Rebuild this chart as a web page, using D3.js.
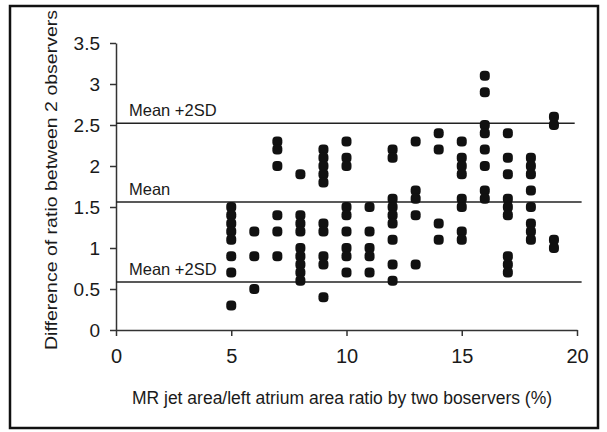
<!DOCTYPE html>
<html>
<head>
<meta charset="utf-8">
<script src="https://cdn.jsdelivr.net/npm/d3@7"></script>
<style>
  body { margin: 0; background: #fff; }
  svg text { font-family: "Liberation Sans", Arial, sans-serif; fill: #1a1a1a; }
</style>
</head>
<body>
<svg id="chart" width="607" height="432"></svg>
<script>
// x positions of each column of points (%)
const colX = [5, 6, 7, 8, 9, 10, 11, 12, 13, 14, 15, 16, 17, 18, 19];
// difference values read for each column
const colY = [
  [1.5, 1.4, 1.3, 1.2, 1.1, 0.9, 0.7, 0.3],
  [1.2, 0.9, 0.5],
  [2.3, 2.2, 2.0, 1.4, 1.2, 0.9],
  [1.9, 1.4, 1.3, 1.2, 1.0, 0.9, 0.8, 0.7, 0.6],
  [2.2, 2.1, 2.0, 1.9, 1.8, 1.3, 1.2, 0.9, 0.8, 0.4],
  [2.3, 2.1, 2.0, 1.5, 1.4, 1.2, 1.0, 0.9, 0.7],
  [1.5, 1.2, 1.0, 0.9, 0.7],
  [2.2, 2.1, 1.6, 1.5, 1.4, 1.3, 1.1, 0.8, 0.6],
  [2.3, 1.7, 1.6, 1.4, 0.8],
  [2.4, 2.2, 1.3, 1.1],
  [2.3, 2.1, 2.0, 1.9, 1.6, 1.5, 1.2, 1.1],
  [3.1, 2.9, 2.5, 2.4, 2.2, 2.0, 1.7, 1.6],
  [2.4, 2.1, 1.9, 1.6, 1.5, 1.4, 0.9, 0.8, 0.7],
  [2.1, 2.0, 1.9, 1.7, 1.5, 1.3, 1.2, 1.1],
  [2.6, 2.5, 1.1, 1.0]
];
// reference lines
const refNames = ["Mean +2SD", "Mean", "Mean +2SD"];
const refValues = [2.52, 1.56, 0.585];
const refEnds = [19.9, 20.2, 20.2];
// ticks
const xTicks = [0, 5, 10, 15, 20];
const yTicks = [0, 0.5, 1, 1.5, 2, 2.5, 3, 3.5];
const xTitle = "MR jet area/left atrium area ratio by two boservers (%)";
const yTitle = "Difference of ratio between 2 observers";

const
  svg = d3.select('#chart'),
  xScale = d3.scaleLinear().domain([0, 20]).range([116, 577]),
  yScale = d3.scaleLinear().domain([0, 3.5]).range([330, 43]),
  points = colX.flatMap((x, i) => colY[i].map(y => ({x: x, y: y})))
  ;

// outer frame
svg.append('rect')
  .attr('x', 10).attr('y', 6)
  .attr('width', 588).attr('height', 422)
  .attr('fill', 'none')
  .attr('stroke', '#111')
  .attr('stroke-width', 2.5);

// axes
const axisY = d3.axisLeft(yScale)
  .tickValues(yTicks)
  .tickFormat(d3.format('~g'))
  .tickSize(6)
  .tickSizeOuter(0)
  .tickPadding(10);
const axisX = d3.axisBottom(xScale)
  .tickValues(xTicks)
  .tickFormat(d3.format('~g'))
  .tickSize(6)
  .tickSizeOuter(0)
  .tickPadding(13);

const gy = svg.append('g')
  .attr('transform', `translate(${xScale(0)},0)`)
  .call(axisY);
gy.selectAll('text').style('font-size', '19px');

const gx = svg.append('g')
  .attr('transform', `translate(0,${yScale(0)})`)
  .call(axisX);
gx.selectAll('text').style('font-size', '20px');

svg.selectAll('.domain, .tick line')
  .attr('stroke', '#333')
  .attr('stroke-width', 1.5);

// reference lines
refValues.forEach((v, i) => {
  svg.append('line')
    .attr('x1', xScale(0)).attr('x2', xScale(refEnds[i]))
    .attr('y1', yScale(v)).attr('y2', yScale(v))
    .attr('stroke', '#222')
    .attr('stroke-width', 1.5);
  svg.append('text')
    .attr('x', xScale(0) + 13)
    .attr('y', yScale(v) - 7)
    .style('font-size', '16.5px')
    .text(refNames[i]);
});

// points
svg.append('g')
  .selectAll('rect')
  .data(points)
  .join('rect')
  .attr('x', d => xScale(d.x) - 5)
  .attr('y', d => yScale(d.y) - 5)
  .attr('width', 10)
  .attr('height', 10)
  .attr('rx', 4)
  .attr('fill', '#111');

// axis titles
svg.append('text')
  .attr('x', 342)
  .attr('y', 404)
  .attr('text-anchor', 'middle')
  .style('font-size', '17.5px')
  .text(xTitle);

svg.append('text')
  .attr('transform', 'translate(57,180) rotate(-90)')
  .attr('text-anchor', 'middle')
  .style('font-size', '17px')
  .attr('textLength', 340)
  .attr('lengthAdjust', 'spacingAndGlyphs')
  .text(yTitle);
</script>
</body>
</html>
